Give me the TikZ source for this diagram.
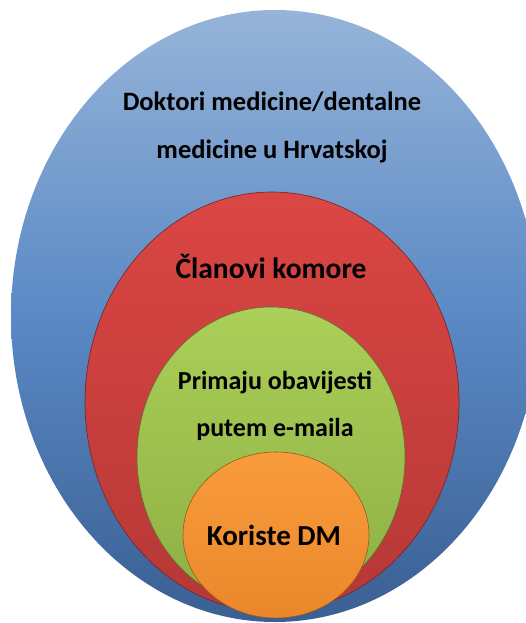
\documentclass[tikz,border=0pt]{standalone}
\usepackage{fontspec}
\setmainfont{Carlito}
\usetikzlibrary{positioning}

\definecolor{blueTop}{HTML}{96B4D9}
\definecolor{blueMid}{HTML}{5A89C5}
\definecolor{blueBot}{HTML}{3A5F93}
\definecolor{redTop}{HTML}{DB4643}
\definecolor{redBot}{HTML}{B53836}
\definecolor{greenTop}{HTML}{ABCF58}
\definecolor{greenBot}{HTML}{8DAF44}
\definecolor{orangeTop}{HTML}{F99C3C}
\definecolor{orangeBot}{HTML}{EA872B}

\tikzset{
	ring/.style={draw=#1!65!black, line width=0.6pt},
	label/.style={text=black, align=center}
}

\begin{document}
\begin{tikzpicture}[x=1pt, y=-1pt]
	\useasboundingbox (0,0) rectangle (526,623);
	\clip (0,0) rectangle (526,623);
	% nested ellipses
	\shade[top color=blueTop, bottom color=blueBot, middle color=blueMid] (275,316) ellipse [x radius=264, y radius=306];
	\shade[ring=redBot, top color=redTop, bottom color=redBot] (272,402) ellipse [x radius=187, y radius=210];
	\shade[ring=greenBot, top color=greenTop, bottom color=greenBot] (271,457) ellipse [x radius=134, y radius=150];
	\shade[ring=orangeBot, top color=orangeTop, bottom color=orangeBot] (276,535) ellipse [x radius=93, y radius=83];
	% labels
	\node[label, font=\fontsize{26.5}{48}\bfseries] (doctors) at (272,127)
	{Doktori medicine/dentalne\\medicine u Hrvatskoj};
	\node[label, font=\fontsize{29.5}{32}\bfseries] (members) at (271,266) {Članovi komore};
	\node[label, font=\fontsize{26}{47}\bfseries] (email) at (275,406)
	{Primaju obavijesti\\putem e-maila};
	\node[label, font=\fontsize{29}{32}\bfseries] (users) at (274,535) {Koriste DM};
\end{tikzpicture}
\end{document}
